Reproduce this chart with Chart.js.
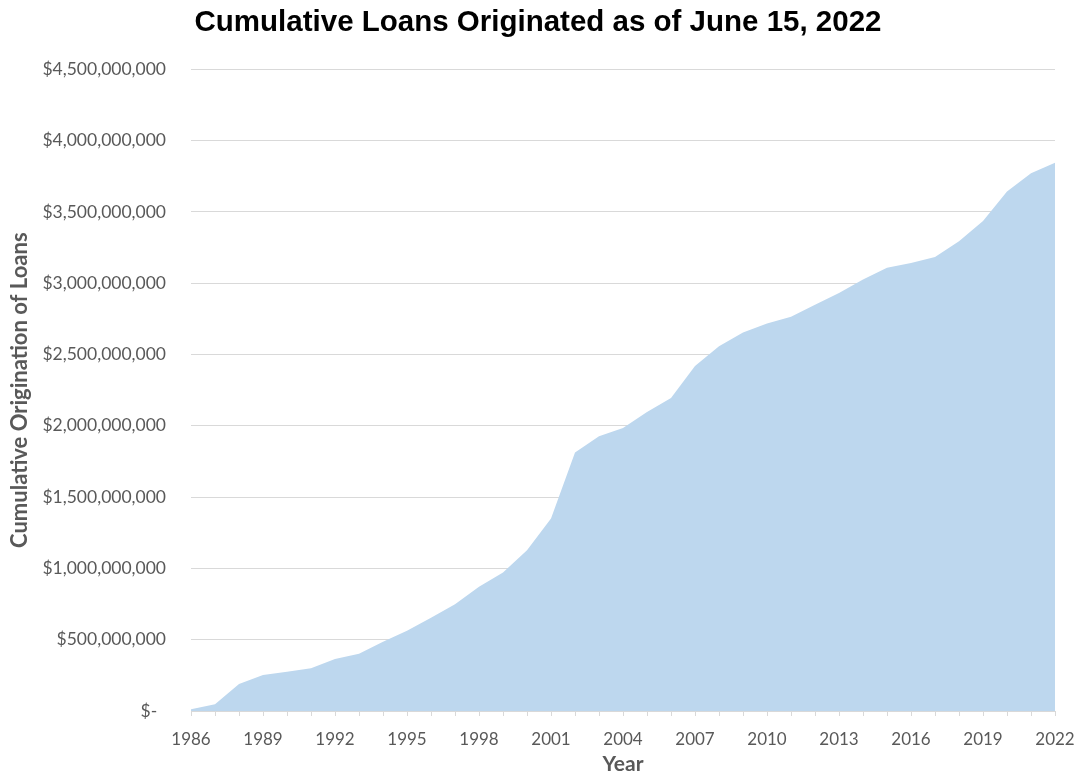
<!DOCTYPE html>
<html>
<head>
<meta charset="utf-8">
<title>Cumulative Loans Originated</title>
<script src="https://cdn.jsdelivr.net/npm/chart.js@4/dist/chart.umd.min.js"></script>
<style>
  html, body { margin: 0; padding: 0; background: #ffffff; }
  #wrap { width: 1076px; height: 775px; position: relative; }
</style>
</head>
<body>
<div id="wrap"><canvas id="chart"></canvas></div>
<script>
// Year-end cumulative loan origination (US dollars)
const years = [
  1986, 1987, 1988, 1989, 1990, 1991, 1992, 1993, 1994, 1995,
  1996, 1997, 1998, 1999, 2000, 2001, 2002, 2003, 2004, 2005,
  2006, 2007, 2008, 2009, 2010, 2011, 2012, 2013, 2014, 2015,
  2016, 2017, 2018, 2019, 2020, 2021, 2022
];
const cumulativeLoans = [
  12000000, 47000000, 189000000, 252000000, 276000000, 299000000, 364000000, 402000000, 486000000, 563000000,
  654000000, 748000000, 871000000, 972000000, 1128000000, 1350000000, 1813000000, 1927000000, 1985000000, 2097000000,
  2196000000, 2420000000, 2558000000, 2654000000, 2717000000, 2765000000, 2850000000, 2932000000, 3027000000, 3109000000,
  3142000000, 3184000000, 3294000000, 3436000000, 3644000000, 3772000000, 3845000000
];
const yTickStep = 500000000;
const yMax = 4500000000;
const labelEvery = 3;

const axisFont = 'Lato, "Open Sans", "DejaVu Sans", sans-serif';
const grey = '#595959';
const lineGrey = '#d9d9d9';

new Chart(document.getElementById('chart'), {
  type: 'line',
  data: {
    labels: years.map(String),
    datasets: [{
      label: 'Cumulative Origination of Loans',
      data: cumulativeLoans,
      fill: 'origin',
      backgroundColor: '#bdd7ee',
      borderWidth: 0,
      borderColor: 'rgba(0,0,0,0)',
      pointRadius: 0,
      pointHoverRadius: 0,
      tension: 0
    }]
  },
  options: {
    responsive: true,
    maintainAspectRatio: false,
    animation: false,
    layout: { padding: 0 },
    plugins: {
      legend: { display: false },
      tooltip: { enabled: false },
      title: {
        display: true,
        text: 'Cumulative Loans Originated as of June 15, 2022',
        color: '#000000',
        font: { family: '"Liberation Sans", Arial, sans-serif', size: 29.5, weight: 'bold' },
        padding: { top: 5, bottom: 29 }
      }
    },
    scales: {
      x: {
        type: 'category',
        offset: false,
        border: { display: true, color: lineGrey, width: 1 },
        grid: { drawOnChartArea: false, drawTicks: true, tickLength: 5, color: lineGrey },
        ticks: {
          autoSkip: false,
          maxRotation: 0,
          minRotation: 0,
          padding: 13,
          color: grey,
          font: { family: axisFont, size: 17 },
          callback: function (value, index) {
            return index % labelEvery === 0 ? this.getLabelForValue(value) : '';
          }
        },
        title: {
          display: true,
          text: 'Year',
          color: grey,
          font: { family: axisFont, size: 21, weight: 'bold', lineHeight: 1 },
          padding: { top: 0, bottom: 0 }
        },
        afterFit: function (scale) {
          scale.height = 64;
          scale.paddingRight = 21;
        }
      },
      y: {
        min: 0,
        max: yMax,
        border: { display: false },
        grid: { color: lineGrey, drawTicks: false },
        ticks: {
          stepSize: yTickStep,
          padding: 25,
          color: grey,
          font: { family: axisFont, size: 17.5 },
          callback: function (v) {
            return v === 0 ? '$-\u2002' : '$' + v.toLocaleString('en-US');
          }
        },
        title: {
          display: true,
          text: 'Cumulative Origination of Loans',
          color: grey,
          font: { family: axisFont, size: 22, weight: 'bold', lineHeight: 1 },
          padding: { top: 9, bottom: 0 }
        },
        afterFit: function (scale) { scale.width = 191; }
      }
    }
  }
});
</script>
</body>
</html>
